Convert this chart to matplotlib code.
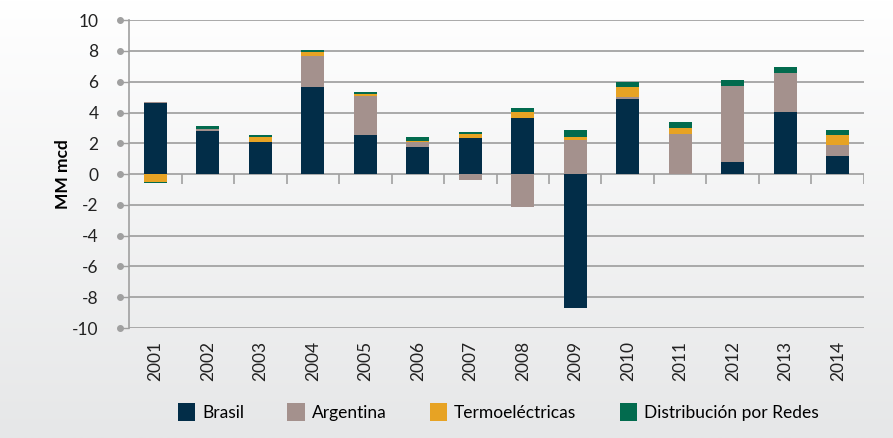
import numpy as np
import matplotlib
matplotlib.use("Agg")
import matplotlib.pyplot as plt
from matplotlib.transforms import blended_transform_factory

plt.rcParams['font.family'] = ['Lato', 'DejaVu Sans']
plt.rcParams['axes.unicode_minus'] = False

years = ['2001', '2002', '2003', '2004', '2005', '2006', '2007',
         '2008', '2009', '2010', '2011', '2012', '2013', '2014']

# MM mcd
brasil = [4.61, 2.79, 2.08, 5.65, 2.53, 1.75, 2.34, 3.64, -8.70, 4.87, 0.00, 0.78, 4.03, 1.17]
argentina = [0.07, 0.13, 0.00, 2.01, 2.53, 0.32, -0.39, -2.15, 2.21, 0.13, 2.60, 4.94, 2.53, 0.71]
termo = [-0.50, 0.02, 0.32, 0.26, 0.13, 0.06, 0.26, 0.39, 0.20, 0.65, 0.39, 0.00, 0.00, 0.65]
redes = [-0.07, 0.20, 0.13, 0.13, 0.13, 0.26, 0.13, 0.26, 0.45, 0.32, 0.39, 0.39, 0.39, 0.32]

series = [('Brasil', brasil, '#022d48'),
          ('Argentina', argentina, '#a4918d'),
          ('Termoeléctricas', termo, '#e7a324'),
          ('Distribución por Redes', redes, '#026b4e')]

fig = plt.figure(figsize=(8.93, 4.38), dpi=100)

# background gradient
bg = fig.add_axes([0, 0, 1, 1], zorder=-1)
grad = np.linspace(0, 1, 256).reshape(-1, 1)
top = np.array([1.0, 1.0, 1.0])
bot = np.array([0xe6, 0xe7, 0xe8]) / 255
img = top + (bot - top) * grad[:, :, None]
bg.imshow(img, aspect='auto', extent=[0, 1, 0, 1])
bg.axis('off')

ax = fig.add_axes([0.1445, 0.251, 0.823, 0.703])
ax.set_facecolor('none')

x = np.arange(len(years))
pos_base = np.zeros(len(years))
neg_base = np.zeros(len(years))
for name, vals, col in series:
    v = np.array(vals)
    base = np.where(v >= 0, pos_base, neg_base)
    ax.bar(x, v, bottom=base, width=0.44, color=col, label=name, zorder=3)
    pos_base += np.where(v >= 0, v, 0)
    neg_base += np.where(v < 0, v, 0)

ax.set_xlim(-0.5, len(years) - 0.5)
ax.set_ylim(-10, 10)
ax.set_yticks(np.arange(-10, 11, 2))
ax.yaxis.grid(True, color='#a9a9a9', linewidth=1.4, zorder=1)
ax.set_axisbelow(True)

for s in ['top', 'right', 'bottom']:
    ax.spines[s].set_visible(False)
ax.spines['left'].set_color('#a0a0a0')
ax.spines['left'].set_linewidth(1.2)

ax.tick_params(axis='y', length=7, width=1, color='#a0a0a0', pad=15,
               labelsize=12.5, labelcolor='#222222')
# dots at the end of the y ticks
tr = blended_transform_factory(ax.transAxes, ax.transData)
ax.plot(np.full(11, -0.0125), np.arange(-10, 11, 2), 'o', ms=4,
        color='#a0a0a0', transform=tr, clip_on=False)

# category separators below zero line
ax.vlines(x[:-1] + 0.5, -0.65, 0, color='#a0a0a0', linewidth=1.2, zorder=2)
ax.vlines([len(years) - 0.5], -0.65, 0, color='#a0a0a0', linewidth=1.2, zorder=2)

ax.set_xticks(x)
ax.set_xticklabels(years, rotation=90, fontsize=12.5, color='#222222')
ax.tick_params(axis='x', length=0, pad=9)

ax.set_ylabel('MM mcd', fontsize=12.5, fontweight='bold', labelpad=1)

fig.legend(loc='center', bbox_to_anchor=(0.558, 0.059), ncol=4, frameon=False,
           fontsize=12.5, handlelength=1.0, handleheight=1.2, handletextpad=0.4,
           columnspacing=2.5)

fig.savefig('out.png', dpi=100)
